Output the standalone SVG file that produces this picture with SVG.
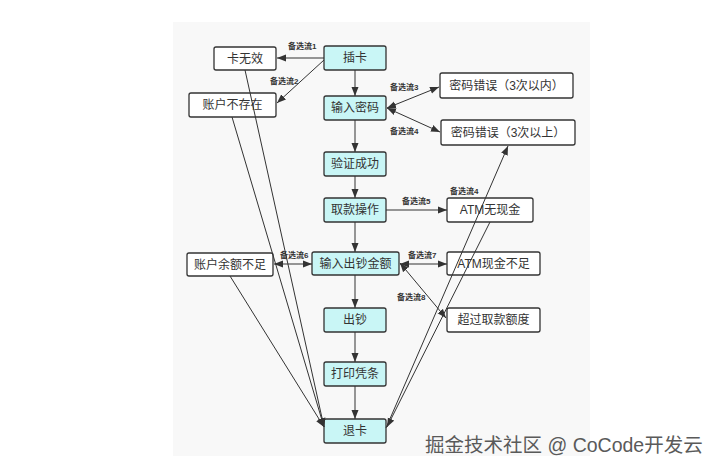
<svg xmlns="http://www.w3.org/2000/svg" width="716" height="471" viewBox="0 0 716 471">
<style>
.n rect{stroke:#333;stroke-width:1.3;fill:#fff}
.c rect{fill:#c9f6f6}
.n text{font-family:"Liberation Sans","Noto Sans CJK SC",sans-serif;font-size:12px;fill:#333;text-anchor:middle}
#edges path{stroke:#333;stroke-width:1;fill:none}
.a{marker-end:url(#ar)}
.b{marker-start:url(#ar);marker-end:url(#ar)}
.l{font-family:"Liberation Sans","Noto Sans CJK SC",sans-serif;font-size:8px;font-weight:bold;fill:#333}
.wm{font-family:"Liberation Sans","Noto Sans CJK SC",sans-serif;font-size:19.5px;fill:#5a5a5a}
</style>
<defs>
<marker id="ar" markerUnits="userSpaceOnUse" markerWidth="10" markerHeight="8" refX="9" refY="4" orient="auto-start-reverse">
<path d="M0,0.5 L9,4 L0,7.5 z" fill="#333"/>
</marker>
</defs>
<rect width="716" height="471" fill="#fff"/>
<rect x="173" y="22" width="417" height="434" fill="#f8f8f8"/>
<g id="n_kwx" class="n"><rect x="214" y="47" width="62" height="23" rx="2"/><text x="245" y="63">卡无效</text></g>
<g id="n_ck" class="n c"><rect x="324" y="46" width="62" height="24" rx="2"/><text x="355" y="62">插卡</text></g>
<g id="n_zhbcz" class="n"><rect x="189" y="93" width="87" height="24" rx="2"/><text x="232.5" y="109">账户不存在</text></g>
<g id="n_srmm" class="n c"><rect x="324" y="96" width="62" height="24" rx="2"/><text x="355" y="112">输入密码</text></g>
<g id="n_yzcg" class="n c"><rect x="324" y="152" width="62" height="24" rx="2"/><text x="355" y="168">验证成功</text></g>
<g id="n_qkcz" class="n c"><rect x="324" y="198" width="62" height="24" rx="2"/><text x="355" y="214">取款操作</text></g>
<g id="n_srcc" class="n c"><rect x="312" y="252" width="87" height="23" rx="2"/><text x="355.5" y="268">输入出钞金额</text></g>
<g id="n_zhye" class="n"><rect x="187" y="253" width="86" height="23" rx="2"/><text x="230" y="269">账户余额不足</text></g>
<g id="n_cc" class="n c"><rect x="324" y="308" width="62" height="24" rx="2"/><text x="355" y="324">出钞</text></g>
<g id="n_dypt" class="n c"><rect x="324" y="362" width="62" height="24" rx="2"/><text x="355" y="378">打印凭条</text></g>
<g id="n_tk" class="n c"><rect x="324" y="419" width="62" height="24" rx="2"/><text x="355" y="435">退卡</text></g>
<g id="n_mm1" class="n"><rect x="440" y="73" width="133" height="25" rx="2"/><text x="506.5" y="90">密码错误（3次以内）</text></g>
<g id="n_mm2" class="n"><rect x="441" y="120" width="134" height="25" rx="2"/><text x="508" y="137">密码错误（3次以上）</text></g>
<g id="n_wxj" class="n"><rect x="447" y="198" width="86" height="24" rx="2"/><text x="490" y="214">ATM无现金</text></g>
<g id="n_xjbz" class="n"><rect x="447" y="252" width="93" height="23" rx="2"/><text x="493.5" y="268">ATM现金不足</text></g>
<g id="n_cged" class="n"><rect x="447" y="308" width="93" height="24" rx="2"/><text x="493.5" y="324">超过取款额度</text></g>
<g id="edges">
<path class="a" d="M324,58 L277,58"/>
<path class="a" d="M324,60 L277,103"/>
<path class="a" d="M355,70 L355,96"/>
<path class="b" d="M387,108 L439,87"/>
<path class="b" d="M387,108 L440,132"/>
<path class="a" d="M355,120 L355,152"/>
<path class="a" d="M355,176 L355,198"/>
<path class="a" d="M386,210 L447,210"/>
<path class="a" d="M355,222 L355,252"/>
<path class="b" d="M274,264 L312,264"/>
<path class="b" d="M400,264 L447,264"/>
<path class="b" d="M400,263 L446,318"/>
<path class="a" d="M355,275 L355,308"/>
<path class="a" d="M355,332 L355,362"/>
<path class="a" d="M355,386 L355,419"/>
<path class="a" d="M245,70 L324,427"/>
<path class="a" d="M232,117 L324,427"/>
<path class="a" d="M230,276 L324,427"/>
<path class="a" d="M386,428 L508,146"/>
<path class="a" d="M490,222 L387,427"/>
</g>
<g id="labels">
<text class="l" x="288" y="49">备选流1</text>
<text class="l" x="270" y="84">备选流2</text>
<text class="l" x="390" y="90">备选流3</text>
<text class="l" x="390" y="134">备选流4</text>
<text class="l" x="450" y="194">备选流4</text>
<text class="l" x="402" y="204">备选流5</text>
<text class="l" x="280" y="258">备选流6</text>
<text class="l" x="408" y="258">备选流7</text>
<text class="l" x="397" y="300">备选流8</text>
</g>
<text class="wm" x="425" y="452">掘金技术社区 @ CoCode开发云</text>
</svg>
